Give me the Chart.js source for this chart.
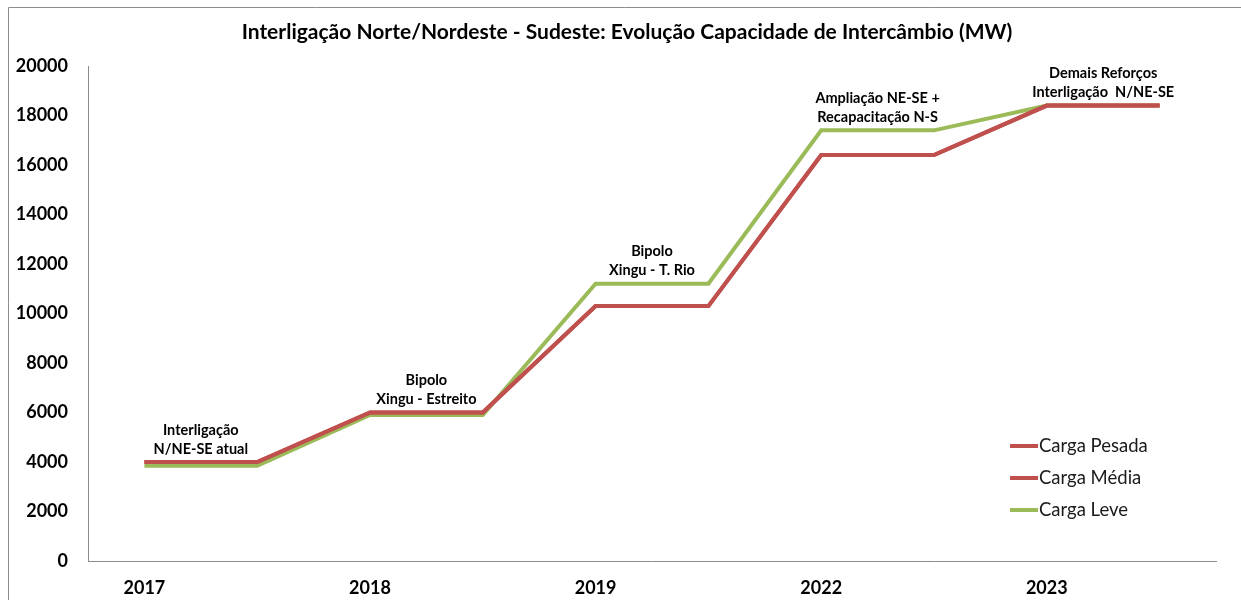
<!DOCTYPE html>
<html lang="pt">
<head>
<meta charset="utf-8">
<title>Interligação Norte/Nordeste - Sudeste</title>
<script src="https://cdn.jsdelivr.net/npm/chart.js@4.4.1/dist/chart.umd.min.js"></script>
<style>
  html, body { margin: 0; padding: 0; background: #ffffff; }
  #wrap { width: 1241px; height: 600px; }
</style>
</head>
<body>
<div id="wrap"><canvas id="chart" width="1241" height="600"></canvas></div>
<script>
// Each year occupies two slots: the year itself and the end of its flat stretch.
const categories = ['2017', '', '2018', '', '2019', '', '2022', '', '2023', ''];

// Exchange capacity (MW) per load level
const cargaPesada = [4000, 4000, 6000, 6000, 10300, 10300, 16400, 16400, 18400, 18400];
const cargaMedia  = [4000, 4000, 6000, 6000, 10300, 10300, 16400, 16400, 18400, 18400];
const cargaLeve   = [3850, 3850, 5900, 5900, 11200, 11200, 17400, 17400, 18400, 18400];

const seriesNames = ['Carga Pesada', 'Carga Média', 'Carga Leve'];

// Y axis range and step
const yTicks = { min: 0, max: 20000, step: 2000 };

// Milestone notes, one per year plateau
const milestones = [
  ['Interligação', 'N/NE-SE atual'],
  ['Bipolo', 'Xingu - Estreito'],
  ['Bipolo', 'Xingu - T. Rio'],
  ['Ampliação NE-SE +', 'Recapacitação N-S'],
  ['Demais Reforços', 'Interligação  N/NE-SE']
];

const chartTitle = 'Interligação Norte/Nordeste - Sudeste: Evolução Capacidade de Intercâmbio (MW)';

const RED = '#C0504D';
const GREEN = '#9BBB59';
const FONT = 'Lato, "Open Sans", "DejaVu Sans", sans-serif';

// Frame, title, milestone notes and the in-plot legend
const decorations = {
  id: 'decorations',
  beforeDraw(chart) {
    const ctx = chart.ctx;
    ctx.save();
    ctx.fillStyle = '#ffffff';
    ctx.fillRect(0, 0, chart.width, chart.height);
    ctx.strokeStyle = '#8c8c8c';
    ctx.lineWidth = 1;
    ctx.beginPath();
    ctx.moveTo(8.5, chart.height);
    ctx.lineTo(8.5, 7.5);
    ctx.lineTo(chart.width, 7.5);
    ctx.stroke();

    ctx.fillStyle = '#000000';
    ctx.font = 'bold 21px ' + FONT;
    ctx.textAlign = 'center';
    ctx.textBaseline = 'middle';
    ctx.fillText(chartTitle, 627, 32);
    ctx.restore();
  },
  afterDatasetsDraw(chart) {
    const ctx = chart.ctx;
    const x = chart.scales.x;
    const y = chart.scales.y;
    const area = chart.chartArea;
    ctx.save();
    ctx.fillStyle = '#000000';
    ctx.font = 'bold 14.5px ' + FONT;
    ctx.textAlign = 'center';
    ctx.textBaseline = 'middle';
    milestones.forEach((lines, k) => {
      const i = 2 * k;
      const cx = (x.getPixelForValue(i) + x.getPixelForValue(i + 1)) / 2;
      const top = Math.max(cargaPesada[i], cargaMedia[i], cargaLeve[i]);
      const py = y.getPixelForValue(top);
      ctx.fillText(lines[0], cx, py - 32);
      ctx.fillText(lines[1], cx, py - 13);
    });

    // legend
    ctx.font = '18.5px ' + FONT;
    ctx.textAlign = 'left';
    const lx = area.right - 206;
    chart.data.datasets.forEach((ds, j) => {
      const ly = area.bottom - 115 + j * 32;
      ctx.strokeStyle = ds.borderColor;
      ctx.lineWidth = 4;
      ctx.beginPath();
      ctx.moveTo(lx, ly);
      ctx.lineTo(lx + 28, ly);
      ctx.stroke();
      ctx.fillStyle = '#1a1a1a';
      ctx.fillText(ds.label, lx + 29, ly);
    });
    ctx.restore();
  }
};

new Chart(document.getElementById('chart'), {
  type: 'line',
  data: {
    labels: categories,
    datasets: [
      { label: seriesNames[0], data: cargaPesada, borderColor: RED, backgroundColor: RED },
      { label: seriesNames[1], data: cargaMedia, borderColor: RED, backgroundColor: RED },
      { label: seriesNames[2], data: cargaLeve, borderColor: GREEN, backgroundColor: GREEN }
    ]
  },
  options: {
    responsive: false,
    animation: false,
    devicePixelRatio: 1,
    layout: { padding: { top: 66, right: 25, left: 0, bottom: 0 } },
    elements: {
      line: { borderWidth: 4, tension: 0, borderCapStyle: 'butt', borderJoinStyle: 'miter' },
      point: { radius: 0, hoverRadius: 0 }
    },
    plugins: {
      legend: { display: false },
      title: { display: false },
      tooltip: { enabled: false }
    },
    scales: {
      x: {
        type: 'category',
        offset: true,
        grid: { display: false, drawTicks: false },
        border: { display: true, color: '#8c8c8c', width: 1 },
        ticks: {
          autoSkip: false, maxRotation: 0, padding: 16,
          color: '#000000', font: { family: FONT, size: 18, weight: 'bold' }
        },
        afterFit(scale) { scale.height = 39; }
      },
      y: {
        min: yTicks.min, max: yTicks.max,
        grid: { display: false, drawTicks: false },
        border: { display: true, color: '#8c8c8c', width: 1 },
        ticks: {
          stepSize: yTicks.step, padding: 20,
          color: '#000000', font: { family: FONT, size: 18, weight: 'bold' },
          callback: (v) => String(v)
        },
        afterFit(scale) { scale.width = 88; }
      }
    }
  },
  plugins: [decorations]
});
</script>
</body>
</html>
